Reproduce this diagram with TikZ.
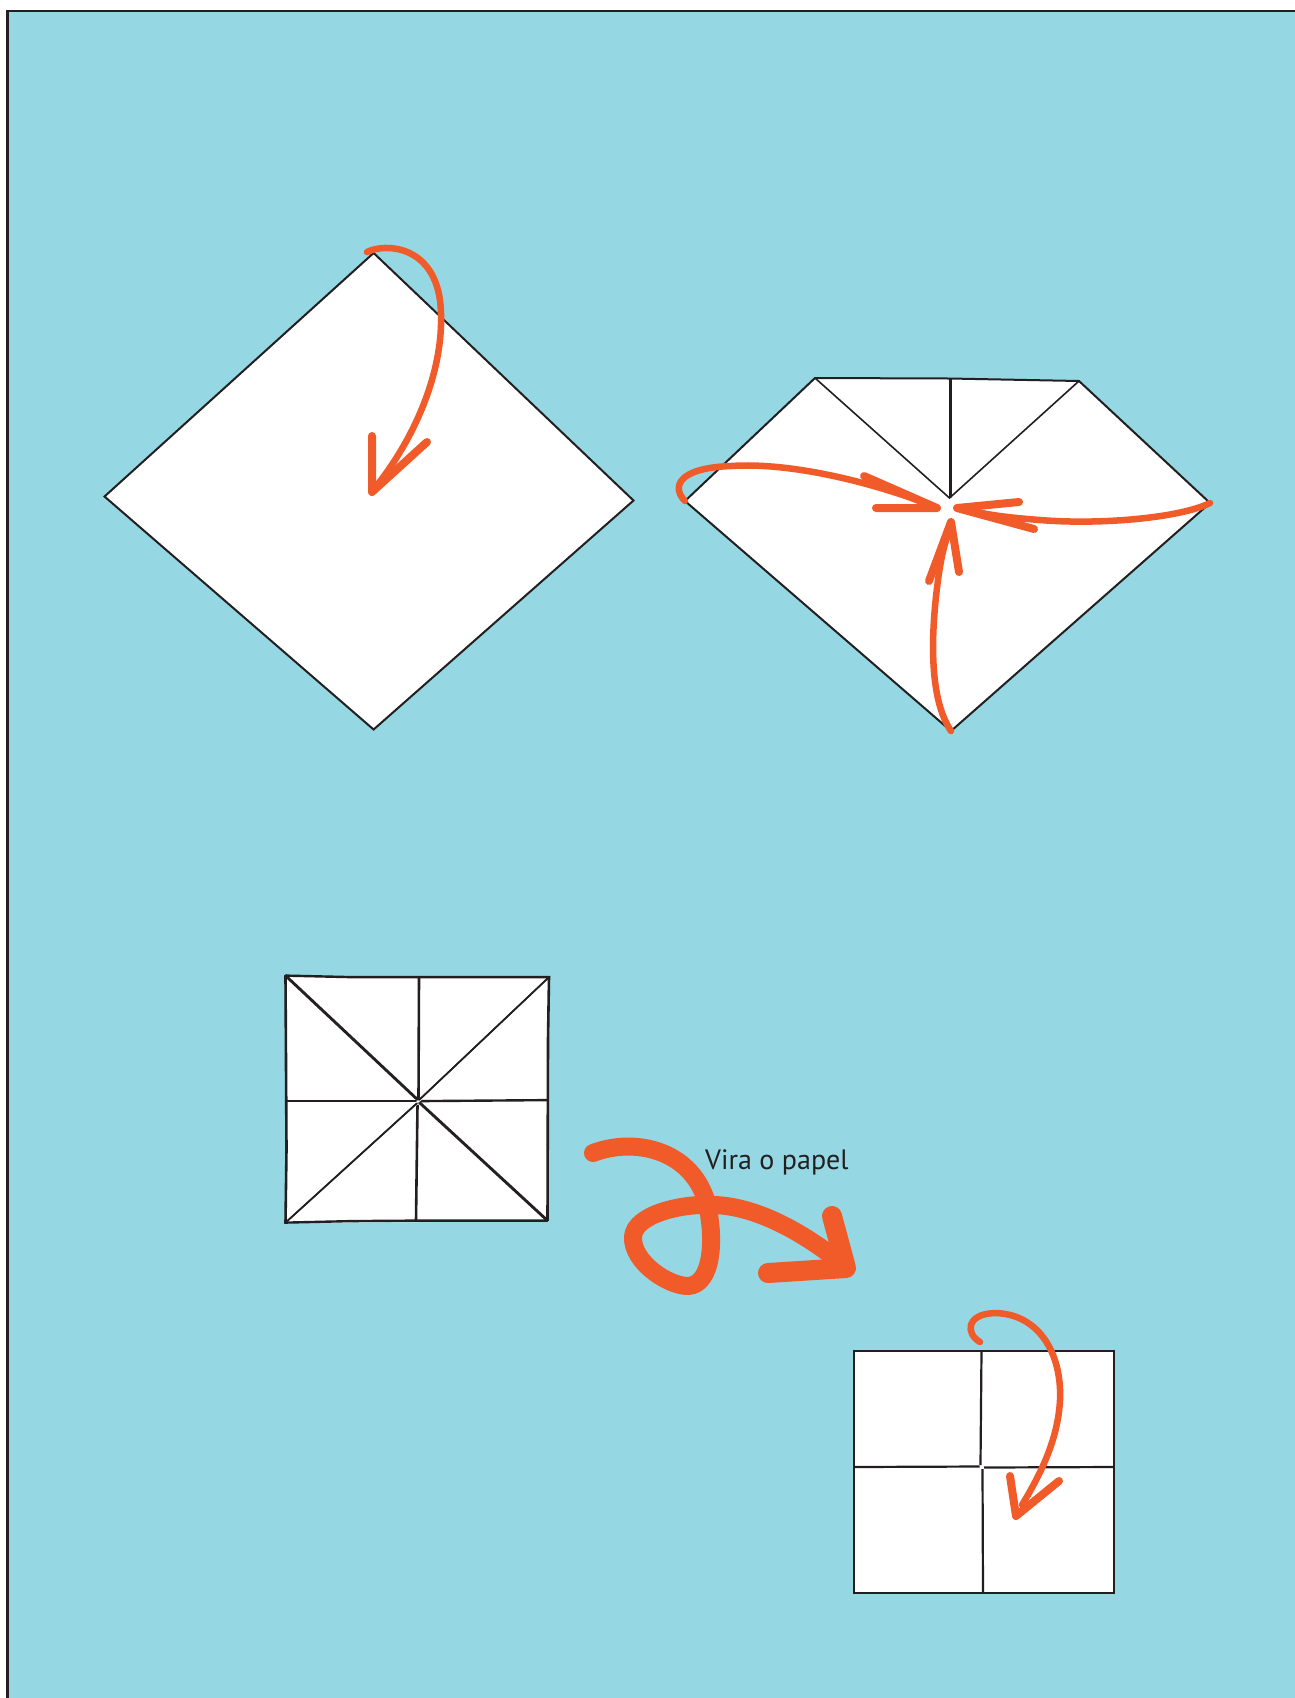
\documentclass[tikz,border=0pt]{standalone}
\usepackage{fontspec}
\setmainfont{PT Sans}
\usepackage{tikz}
\definecolor{sky}{HTML}{95D7E2}
\definecolor{ink}{HTML}{231F20}
\definecolor{tangerine}{HTML}{F15A29}
\tikzset{
  sheet/.style={fill=white, draw=ink, line width=2pt},
  crease/.style={draw=ink, line width=1.6pt, line cap=round},
  foldarrow/.style={draw=tangerine, line width=6.5pt, line cap=round, line join=round},
  barbs/.style={draw=tangerine, line width=8pt, line cap=round, line join=round},
  turnarrow/.style={draw=tangerine, line width=18pt, line cap=round, line join=round},
  turnbarbs/.style={draw=tangerine, line width=20pt, line cap=round, line join=round},
}
\newcommand{\sketchy}[1]{\draw[crease] #1; \draw[crease, xshift=1pt, yshift=0.8pt] #1;}

\begin{document}
\begin{tikzpicture}[x=1pt, y=-1pt]
\useasboundingbox (0,0) rectangle (1295,1698);
\fill[white] (0,0) rectangle (1295,1698);
\fill[sky] (7.5,11) rectangle (1295,1698);
\draw[ink, line width=2.2pt] (7.5,1698) -- (7.5,11) -- (1295,11);

% step 1: square on its point, top corner folded down
\coordinate (d1top) at (373.6,253);
\coordinate (d1left) at (104.5,496.5);
\coordinate (d1bot) at (373.6,729.5);
\coordinate (d1right) at (633.5,500.5);
\draw[sheet] (d1top) -- (d1left) -- (d1bot) -- (d1right) -- cycle;
\coordinate (a1tip) at (372,492);
\draw[foldarrow] (367,252) .. controls (385,243) and (432,245) .. (440,300)
  .. controls (447,360) and (420,430) .. (378,484);
\draw[barbs] (372,436) -- (a1tip) -- (427,442);

% step 2: top folded, the other three corners go to the middle
\coordinate (d2a) at (815,378);
\coordinate (d2m) at (949.5,378.5);
\coordinate (d2b) at (1079,381);
\coordinate (d2right) at (1210,503);
\coordinate (d2bot) at (951,731);
\coordinate (d2left) at (685,501);
\coordinate (d2c) at (949.5,498);
\draw[sheet] (d2a) -- (d2m) -- (d2b) -- (d2right) -- (d2bot) -- (d2left) -- cycle;
\draw[crease] (d2a) -- (d2c) -- (d2b);
\draw[crease] (d2m) -- (d2c);
\draw[crease] (951,379) -- (951,497);
% left corner
\coordinate (a2tip) at (937,508);
\draw[foldarrow] (d2left) .. controls (672,488) and (676,468) .. (731,466)
  .. controls (790,462) and (870,482) .. (925,503);
\draw[barbs] (864,476) -- (a2tip) -- (876,508);
% right corner
\coordinate (a3tip) at (957,508);
\draw[foldarrow] (d2right) .. controls (1180,518) and (1100,525) .. (1040,520)
  .. controls (1000,517) and (985,514) .. (968,510);
\draw[barbs] (1019,502) -- (a3tip) -- (1034,529);
% bottom corner
\coordinate (a4tip) at (951,522);
\draw[foldarrow] (d2bot) .. controls (930,700) and (930,640) .. (938,580)
  .. controls (941,558) and (944,545) .. (949,532);
\draw[barbs] (929,581) -- (a4tip) -- (959,572);

% step 3: opened square with its creases
\fill[white] (285,976) -- (548.5,977.5) -- (547,1221) -- (285,1223) -- cycle;
\sketchy{(285,976) -- (350,977.5) -- (548.5,977.5)}
\sketchy{(548.5,977.5) -- (547.5,1040) -- (547,1221)}
\sketchy{(547,1221) -- (415,1221) -- (350,1221.5) -- (285,1223)}
\sketchy{(285,1223) -- (286,1150) -- (285,976)}
\sketchy{(418.5,977.5) -- (418,1099)}
\sketchy{(417,1106) -- (415.5,1221)}
\sketchy{(286,1101.5) -- (415,1101.5)}
\sketchy{(421,1101.5) -- (547,1100.5)}
\sketchy{(285,976) -- (417,1100)}
\sketchy{(548.5,977.5) -- (419,1100)}
\sketchy{(285,1223) -- (416,1104)}
\sketchy{(547,1221) -- (419,1103)}

% turn the paper over
\coordinate (bigtip) at (846,1268);
\draw[turnarrow] (593,1153) .. controls (635,1137) and (690,1150) .. (706,1200)
  .. controls (716,1240) and (712,1285) .. (688,1286)
  .. controls (668,1286) and (632,1262) .. (633,1237)
  .. controls (634,1215) and (680,1203) .. (715,1205)
  .. controls (760,1207) and (805,1235) .. (835,1258);
\draw[turnbarbs] (832,1216) -- (bigtip) -- (768,1273);
\node[font=\fontsize{28}{34}\selectfont, text=ink, inner sep=0pt, anchor=base west]
  (flip) at (705,1169.5) {Vira o papel};

% step 4: folded square, top flap goes down
\coordinate (s4tl) at (854,1351);
\coordinate (s4br) at (1114,1593);
\draw[sheet, line width=2.8pt] (s4tl) rectangle (s4br);
\draw[ink, line width=2.2pt] (981.5,1351) -- (980.5,1465);
\draw[ink, line width=2.2pt] (982.5,1469) -- (983,1593);
\draw[ink, line width=2.2pt] (854,1467) -- (979.5,1466.5);
\draw[ink, line width=2.2pt] (984,1467.5) -- (1114,1467);
\coordinate (a5tip) at (1016,1516);
\draw[foldarrow] (980,1342) .. controls (966,1334) and (965,1314) .. (995,1313)
  .. controls (1040,1314) and (1062,1355) .. (1060,1400)
  .. controls (1058,1440) and (1040,1475) .. (1022,1505);
\draw[barbs] (1010,1476) -- (a5tip) -- (1059,1481);
\end{tikzpicture}
\end{document}
